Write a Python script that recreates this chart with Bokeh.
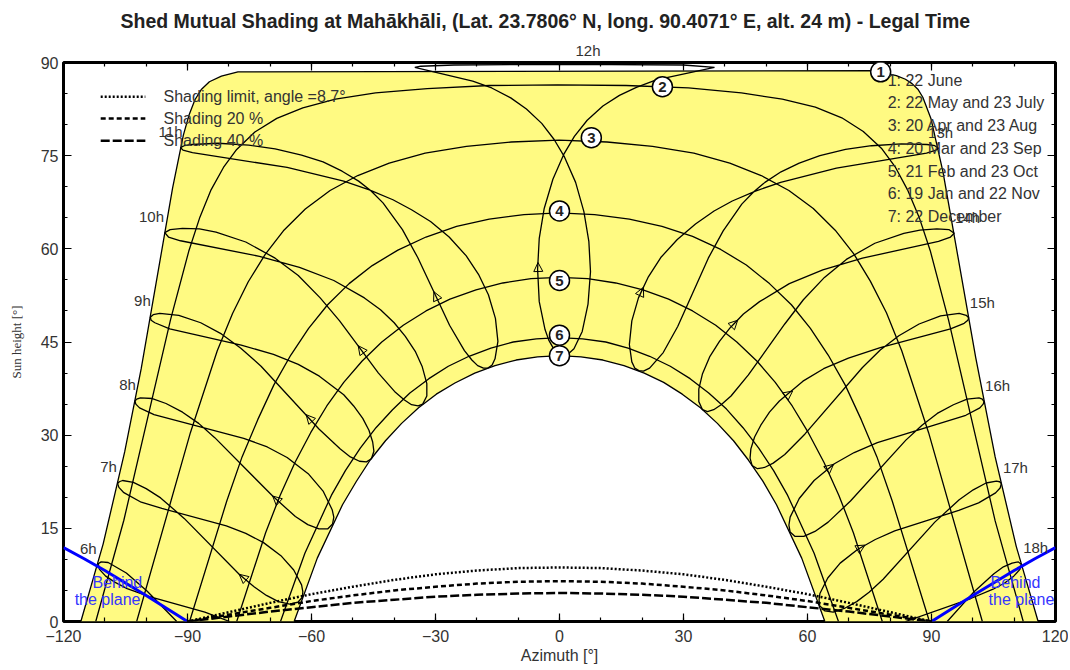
from bokeh.plotting import figure
from bokeh.models import Range1d, FixedTicker, LinearAxis, Title, Arrow, NormalHead
from bokeh.core.properties import value
from bokeh.embed import file_html
from bokeh.resources import INLINE

# ---------------- data (azimuth [deg], sun height [deg]) ----------------
# date paths
d1_az = [-115.8,-110.4,-105.2,-101.2,-93.6,-91.0,-89.6,-88.2,-86.6,-84.7,-81.8,-77.8,76.1,81.5,83.7,85.3,86.7,87.9,89.9,92.8,100.7,105.4,110.5,115.8]
d1_el = [0.0,12.5,27.3,40.7,69.8,78.3,81.6,84.0,85.7,86.9,87.8,88.5,88.7,87.9,87.3,86.6,85.7,84.4,80.9,72.3,42.5,26.5,12.1,0.0]
d2_az = [-112.2,-105.4,-94.1,-89.7,-87.0,-84.3,-81.3,-78.1,-73.7,-68.4,-62.1,-54.2,-44.5,-32.0,-17.0,-0.5,16.1,31.2,44.0,53.9,61.9,68.3,73.5,78.0,81.3,84.2,87.0,89.7,94.1,105.4,112.2]
d2_el = [0.0,16.3,48.6,59.6,65.1,69.5,73.1,76.0,78.8,81.0,82.7,84.1,85.1,85.8,86.3,86.4,86.3,85.9,85.1,84.1,82.8,81.1,78.9,76.1,73.1,69.5,65.1,59.7,48.6,16.2,0.0]
d3_az = [-102.3,-89.3,-82.8,-79.1,-75.3,-71.2,-66.8,-61.5,-55.5,-48.8,-41.2,-32.5,-22.5,-11.7,-0.1,11.5,22.5,32.5,41.2,48.8,55.5,61.4,66.7,71.2,75.2,79.1,82.8,89.3,102.3]
d3_el = [0.0,30.4,43.6,49.6,54.7,59.1,62.9,66.4,69.4,71.8,73.8,75.4,76.5,77.2,77.5,77.2,76.5,75.4,73.8,71.8,69.4,66.5,63.0,59.2,54.8,49.7,43.6,30.4,0.0]
d4_az = [-89.5,-80.5,-76.8,-73.0,-69.1,-65.0,-60.7,-56.1,-50.9,-45.3,-39.1,-32.3,-24.9,-17.0,-8.6,-0.1,8.5,16.9,24.8,32.2,39.0,45.2,50.8,56.1,60.7,65.0,69.1,73.0,76.8,80.5,89.5]
d4_el = [0.0,19.4,26.5,32.5,38.1,42.9,47.2,51.0,54.4,57.3,59.8,61.9,63.6,64.8,65.5,65.8,65.5,64.8,63.6,62.0,59.9,57.4,54.4,51.0,47.2,42.9,38.1,32.5,26.5,19.4,0.0]
d5_az = [-78.1,-71.1,-67.6,-64.0,-60.2,-56.3,-52.2,-47.8,-43.0,-37.8,-32.3,-26.5,-20.2,-13.7,-6.9,0.0,6.8,13.6,20.2,26.4,32.2,37.8,42.9,47.8,52.2,56.3,60.2,64.0,67.6,71.1,78.1]
d5_el = [0.0,14.3,20.3,25.6,30.4,34.7,38.5,41.9,45.0,47.7,50.0,51.9,53.4,54.5,55.2,55.4,55.2,54.5,53.4,51.9,50.0,47.7,45.0,41.9,38.5,34.7,30.4,25.6,20.3,14.3,0.0]
d6_az = [-67.5,-61.6,-55.2,-51.8,-48.2,-44.4,-40.4,-36.2,-31.6,-26.9,-21.9,-16.6,-11.2,-5.6,0.0,5.6,11.2,16.6,21.8,26.8,31.6,36.1,40.4,44.4,48.2,51.8,55.2,61.6,67.5]
d6_el = [0.0,11.0,20.3,24.3,27.9,31.2,34.1,36.8,39.1,41.1,42.7,44.0,45.0,45.5,45.7,45.5,45.0,44.0,42.7,41.1,39.1,36.8,34.2,31.2,27.9,24.3,20.3,11.0,0.0]
d7_az = [-64.2,-58.6,-52.5,-49.2,-45.8,-42.1,-38.2,-34.1,-29.8,-25.3,-20.5,-15.6,-10.5,-5.3,0.0,5.2,10.5,15.6,20.5,25.2,29.7,34.1,38.2,42.1,45.7,49.2,52.5,58.6,64.2]
d7_el = [0.0,10.2,18.8,22.5,26.0,29.1,31.9,34.4,36.6,38.4,40.0,41.2,42.1,42.6,42.8,42.6,42.1,41.2,40.0,38.5,36.6,34.4,31.9,29.1,26.0,22.6,18.8,10.2,0.0]

# hour lines (legal time), Dec -> Jun -> Dec
t6_az = [-92.6,-99.8,-104.8,-109.2,-110.9,-111.6,-111.3,-109.8,-107.5,-104.6,-99.2,-85.8,-79.8]
t6_el = [0.0,4.9,7.8,9.5,9.6,9.3,8.4,7.3,6.3,5.3,4.0,1.5,0.0]
t7_az = [-62.2,-63.3,-65.3,-68.0,-70.9,-73.9,-77.5,-90.8,-96.5,-100.0,-103.1,-105.7,-106.5,-106.9,-106.6,-105.5,-101.2,-96.2,-80.6,-75.9,-71.6,-67.4,-64.3,-62.4,-62.1,-62.2]
t7_el = [3.9,3.1,2.8,3.2,4.2,5.6,7.6,16.6,19.9,21.4,22.4,22.7,22.5,22.2,21.6,20.8,19.2,18.2,15.4,14.2,12.7,10.6,8.3,5.9,4.8,3.9]
t8_az = [-54.9,-56.1,-58.2,-60.9,-63.9,-69.4,-83.4,-87.3,-91.2,-95.2,-98.5,-101.4,-102.3,-102.7,-102.5,-101.6,-98.1,-76.4,-70.7,-65.9,-60.8,-57.2,-55.0,-54.6,-54.9]
t8_el = [15.7,14.9,14.9,15.6,16.9,20.2,29.6,31.9,33.7,35.1,35.9,36.0,35.8,35.5,35.0,34.4,33.3,29.5,28.1,26.4,23.8,21.0,18.0,16.8,15.7]
t9_az = [-45.5,-46.7,-48.4,-50.6,-53.1,-58.2,-72.2,-77.1,-81.8,-86.8,-92.1,-96.7,-98.3,-99.0,-98.8,-97.9,-94.3,-77.0,-69.2,-63.2,-58.1,-52.2,-49.8,-47.6,-46.1,-45.2,-44.9,-45.5]
t9_el = [26.2,25.7,25.8,26.5,27.8,31.0,41.1,44.0,46.3,48.1,49.3,49.6,49.4,49.0,48.5,48.1,47.1,44.5,43.0,41.4,39.5,36.5,34.7,32.7,30.8,28.9,27.4,26.2]
t10_az = [-33.1,-34.2,-35.8,-37.6,-39.7,-43.8,-53.2,-57.9,-63.2,-68.8,-75.9,-83.1,-87.1,-91.2,-94.2,-95.5,-94.6,-91.7,-72.6,-62.9,-54.6,-47.2,-43.3,-40.0,-37.3,-34.9,-33.2,-32.1,-32.1,-33.1]
t10_el = [35.0,34.7,34.9,35.7,36.9,40.0,48.4,52.1,55.7,58.5,61.1,62.7,63.2,63.3,63.1,62.6,61.9,61.3,58.8,57.0,54.9,52.1,50.2,48.1,45.9,43.5,41.0,38.3,36.3,35.0]
t11_az = [-17.3,-18.4,-19.8,-21.2,-23.0,-26.6,-34.3,-38.0,-42.7,-45.7,-48.6,-52.6,-57.2,-62.4,-68.8,-75.2,-82.6,-88.9,-90.8,-91.7,-91.1,-88.8,-65.9,-52.2,-46.0,-40.3,-35.8,-31.2,-26.7,-22.6,-19.6,-17.2,-15.5,-14.9,-15.6,-16.3,-17.3]
t11_el = [40.8,40.8,41.2,42.1,43.6,47.7,58.6,63.1,67.4,69.4,70.9,72.5,74.0,75.1,76.1,76.7,77.0,76.8,76.6,76.3,75.9,75.5,73.1,70.9,69.5,67.9,66.3,64.4,61.9,58.9,55.9,52.6,48.8,45.1,42.3,41.3,40.8]
t12_az = [1.0,-0.3,-1.4,-2.6,-3.5,-4.9,-5.3,-4.9,-3.7,-1.6,1.1,3.6,6.7,10.5,14.5,18.6,23.4,37.5,30.0,3.3,-25.5,-33.6,-35.0,-21.0,-16.4,-11.8,-8.0,-4.3,-1.3,1.2,3.9,5.9,7.1,7.5,6.9,5.5,3.5,2.3,1.0]
t12_el = [42.8,43.1,43.9,45.3,47.0,51.5,56.7,61.7,66.5,71.2,75.3,78.1,80.7,83.0,84.7,86.0,87.2,89.2,89.6,89.7,89.6,89.4,89.2,87.0,85.9,84.3,82.5,80.2,77.6,74.8,70.7,66.0,61.2,56.3,51.1,46.7,43.9,43.2,42.8]
t13_az = [19.2,18.2,17.5,16.9,17.5,19.1,21.5,24.5,28.5,32.9,37.4,41.8,47.4,53.5,67.0,88.8,91.1,91.7,90.8,88.9,82.7,75.5,69.2,63.0,58.0,53.6,49.7,47.0,44.1,39.6,36.0,28.6,25.1,21.8,20.3,19.2]
t13_el = [40.4,40.8,41.8,44.6,48.4,52.1,55.5,58.6,61.5,64.0,66.1,67.7,69.3,70.7,73.0,75.4,75.9,76.2,76.6,76.8,76.9,76.6,76.0,75.0,73.8,72.4,70.7,69.2,67.2,62.9,58.5,47.5,43.3,40.8,40.3,40.4]
t14_az = [34.6,33.7,33.7,34.6,36.4,38.7,41.3,44.5,48.4,55.6,63.7,73.3,91.7,94.6,95.5,94.2,91.3,87.2,83.3,76.3,69.4,64.1,59.0,54.5,45.7,41.5,39.1,37.3,35.8,34.6]
t14_el = [34.1,35.4,37.4,39.9,42.7,45.1,47.3,49.5,51.5,54.4,56.6,58.5,61.2,61.9,62.5,63.1,63.2,63.0,62.5,60.9,58.3,55.4,51.8,47.9,39.7,36.3,34.9,34.1,33.8,34.1]
t15_az = [46.6,46.1,46.3,47.2,48.7,50.8,53.2,58.9,63.9,69.9,77.6,94.6,97.9,98.8,99.0,98.4,96.7,92.2,87.0,82.1,77.6,73.3,59.4,54.5,51.7,49.6,47.9,46.6]
t15_el = [25.1,26.3,27.8,29.7,31.6,33.7,35.5,38.7,40.7,42.4,44.1,47.1,48.0,48.5,48.9,49.3,49.6,49.2,47.9,46.0,43.7,40.9,30.2,26.9,25.5,24.8,24.6,25.1]
t16_az = [55.8,55.5,55.8,58.0,61.6,66.5,71.3,76.9,98.3,101.7,102.5,102.7,102.3,101.5,98.6,95.3,91.4,87.7,83.8,70.4,65.0,61.8,59.1,57.0,55.8]
t16_el = [14.4,15.5,16.8,19.8,22.7,25.4,27.2,28.8,33.2,34.4,35.0,35.4,35.8,36.0,35.8,34.9,33.5,31.6,29.2,19.4,16.0,14.5,13.7,13.7,14.4]
t17_az = [62.9,62.8,63.0,64.9,67.9,72.1,76.4,81.1,96.6,101.4,105.5,106.6,106.9,106.5,105.7,103.2,100.1,96.7,90.8,78.3,74.9,71.9,68.9,66.2,64.2,62.9]
t17_el = [2.6,3.5,4.5,7.0,9.4,11.6,13.2,14.6,17.9,19.1,20.7,21.5,22.2,22.5,22.6,22.3,21.2,19.6,16.0,6.8,4.7,3.2,2.1,1.5,1.7,2.6]
t18_az = [83.7,99.5,104.9,107.7,109.9,111.4,111.7,111.0,109.5,107.4,105.1,100.3,93.8]
t18_el = [0.0,3.7,5.2,6.2,7.3,8.4,9.2,9.6,9.4,8.8,7.7,4.8,0.0]

# direction arrows on the hour lines (tail -> tip)
arrow_tail_az = [-73.9,-63.9,-58.2,-43.8,-26.6,-4.9,19.1,41.3,53.2,61.6,72.1]
arrow_tail_el = [5.6,16.9,31.0,40.0,47.7,51.5,52.1,47.3,35.5,22.7,11.6]
arrow_tip_az = [-77.5,-69.4,-61.3,-48.7,-30.4,-5.2,20.3,43.1,56.4,66.3,73.9]
arrow_tip_el = [7.6,20.2,33.3,44.4,53.1,57.8,53.8,48.5,37.1,25.3,12.3]

# shading limits (vs azimuth)
sh_az = [-90,-80,-70,-60,-50,-40,-30,-20,-10,0,10,20,30,40,50,60,70,80,90]
sh_limit = [0.0,1.5,3.0,4.4,5.6,6.7,7.6,8.2,8.6,8.7,8.6,8.2,7.6,6.7,5.6,4.4,3.0,1.5,0.0]
sh_20 = [0.0,1.1,2.2,3.3,4.2,5.0,5.6,6.1,6.4,6.5,6.4,6.1,5.6,5.0,4.2,3.3,2.2,1.1,0.0]
sh_40 = [0.0,0.8,1.6,2.3,3.0,3.5,4.0,4.3,4.5,4.6,4.5,4.3,4.0,3.5,3.0,2.3,1.6,0.8,0.0]

# behind the plane limits
bp_left_az = [-120,-115,-110,-105,-100,-95,-90]
bp_left_el = [11.9,10.1,8.2,6.2,4.2,2.1,0.0]
bp_right_az = [90,95,100,105,110,115,120]
bp_right_el = [0.0,2.1,4.2,6.2,8.2,10.1,11.9]
bp_txt = ["Behind", "the plane", "Behind", "the plane"]
bp_txt_az = [-113.0, -117.3, 104.3, 103.8]
bp_txt_el = [6.3, 3.5, 6.3, 3.5]

# date markers
mark_txt = ["1","2","3","4","5","6","7"]
mark_az = [77.7,24.9,7.7,0.0,0.0,0.0,0.0]
mark_el = [88.5,86.1,77.9,66.1,54.9,46.1,42.8]
date_labels = ["1: 22 June","2: 22 May and 23 July","3: 20 Apr and 23 Aug","4: 20 Mar and 23 Sep",
               "5: 21 Feb and 23 Oct","6: 19 Jan and 22 Nov","7: 22 December"]
date_lab_az = [79.4]*7
date_lab_el = [87.1,83.6,79.9,76.2,72.5,68.9,65.2]

# hour labels
hour_txt = ["6h","7h","8h","9h","10h","11h","13h","14h","15h","16h","17h","18h"]
hour_az = [-114.0,-109.1,-104.5,-100.9,-98.7,-94.1,92.2,98.7,102.3,106.0,110.3,115.2]
hour_el = [11.8,25.0,38.2,51.7,65.2,78.9,78.7,65.0,51.4,38.0,24.8,11.9]

# legend (shading curves)
leg_txt = ["Shading limit, angle =8.7°","Shading 20 %","Shading 40 %"]
leg_el = [84.5,81.0,77.4]

FONT = "Liberation Sans"
TXT = "#333333"

p = figure(width=1068, height=669, x_range=Range1d(-120, 120), y_range=Range1d(0, 90),
           output_backend="svg", toolbar_location=None, title=None,
           x_axis_location=None, y_axis_location=None,
           min_border_left=63, min_border_right=13, min_border_top=62, min_border_bottom=48)
p.grid.visible = False
p.background_fill_color = "white"
p.border_fill_color = "white"
p.outline_line_color = "black"
p.outline_line_width = 3

xt = FixedTicker(ticks=list(range(-120, 121, 30)), minor_ticks=list(range(-120, 121, 10)))
yt = FixedTicker(ticks=list(range(0, 91, 15)), minor_ticks=list(range(0, 91, 5)))
bottom = LinearAxis(ticker=xt)
left = LinearAxis(ticker=yt)
top = LinearAxis(ticker=xt)
right = LinearAxis(ticker=yt)
p.add_layout(bottom, "below")
p.add_layout(left, "left")
p.add_layout(top, "above")
p.add_layout(right, "right")
for ax in [bottom, left, top, right]:
    ax.axis_line_color = None
    ax.major_tick_in = 8; ax.major_tick_out = 0
    ax.minor_tick_in = 4; ax.minor_tick_out = 0
    ax.major_tick_line_color = "black"; ax.minor_tick_line_color = "black"
    ax.major_tick_line_width = 1.2; ax.minor_tick_line_width = 1.2
    ax.major_label_text_font = FONT
    ax.major_label_text_font_size = "16px"
    ax.major_label_text_color = TXT
top.major_label_overrides = {t: "" for t in range(-120, 121, 30)}
right.major_label_overrides = {t: "" for t in range(0, 91, 15)}
top.major_label_standoff = 0
right.major_label_standoff = 0
bottom.major_label_standoff = 8
left.major_label_standoff = 5
bottom.axis_label = "Azimuth [°]"
bottom.axis_label_text_font = FONT
bottom.axis_label_text_font_size = "16px"
bottom.axis_label_text_font_style = "normal"
bottom.axis_label_text_color = TXT
bottom.axis_label_standoff = 2
left.axis_label = "Sun height [°]"
left.axis_label_text_font = "Liberation Serif"
left.axis_label_text_font_size = "13px"
left.axis_label_text_font_style = "normal"
left.axis_label_text_color = TXT
left.axis_label_standoff = 14

p.add_layout(Title(text="12h", align="left", offset=512, standoff=7, text_font=FONT,
                   text_font_size="15px", text_font_style="normal", text_color=TXT), "above")
p.add_layout(Title(text="Shed Mutual Shading at Mahākhāli, (Lat. 23.7806° N, long. 90.4071° E, alt. 24 m) - Legal Time",
                   align="left", offset=57, standoff=10, text_font=FONT, text_font_size="19.5px",
                   text_font_style="bold", text_color="#222222"), "above")

# yellow area between 22 June and 22 December paths
p.patch(d1_az + d7_az[::-1], d1_el + d7_el[::-1], fill_color="#FFFA82", line_color=None)

hours = [(t6_az, t6_el), (t7_az, t7_el), (t8_az, t8_el), (t9_az, t9_el), (t10_az, t10_el),
         (t11_az, t11_el), (t12_az, t12_el), (t13_az, t13_el), (t14_az, t14_el), (t15_az, t15_el),
         (t16_az, t16_el), (t17_az, t17_el), (t18_az, t18_el)]
for a, e in hours:
    p.line(a, e, line_color="black", line_width=1.3)
dates = [(d1_az, d1_el), (d2_az, d2_el), (d3_az, d3_el), (d4_az, d4_el),
         (d5_az, d5_el), (d6_az, d6_el), (d7_az, d7_el)]
for a, e in dates:
    p.line(a, e, line_color="black", line_width=1.3)

for i in range(len(arrow_tip_az)):
    p.add_layout(Arrow(end=NormalHead(size=9, fill_color=None, line_color="black", line_width=1),
                       x_start=arrow_tail_az[i], y_start=arrow_tail_el[i],
                       x_end=arrow_tip_az[i], y_end=arrow_tip_el[i], line_alpha=0))

# shading curves
p.line(sh_az, sh_limit, line_color="black", line_width=2.5, line_dash="2 2")
p.line(sh_az, sh_20, line_color="black", line_width=2.5, line_dash="5 3")
p.line(sh_az, sh_40, line_color="black", line_width=2.5, line_dash="9 3")

# behind the plane
p.line(bp_left_az, bp_left_el, line_color="#0000ff", line_width=3)
p.line(bp_right_az, bp_right_el, line_color="#0000ff", line_width=3)
p.text(x=bp_txt_az, y=bp_txt_el, text=bp_txt, text_font=value(FONT),
       text_font_size="16px", text_color="#3535ff", text_baseline="middle", text_align="left")

# markers
p.scatter(mark_az, mark_el, size=20, marker="circle", fill_color="white", line_color="black", line_width=1.5)
p.text(mark_az, mark_el, text=mark_txt, text_font=value(FONT), text_font_style="bold",
       text_font_size="15px", text_color="#222222", text_align="center", text_baseline="middle")
p.text(date_lab_az, date_lab_el, text=date_labels, text_font=value(FONT), text_font_size="16px",
       text_color=TXT, text_align="left", text_baseline="middle")

# hour labels
p.text(hour_az, hour_el, text=hour_txt, text_font=value(FONT), text_font_size="15px",
       text_color=TXT, text_align="center", text_baseline="middle")

# legend of shading curves
leg_styles = ["2 2", "5 3", "9 3"]
for i in range(3):
    p.line([-111.0, -100.2], [leg_el[i], leg_el[i]], line_color="black", line_width=2.5, line_dash=leg_styles[i])
p.text([-95.8]*3, leg_el, text=leg_txt, text_font=value(FONT), text_font_size="16px",
       text_color=TXT, text_align="left", text_baseline="middle")

open("out.html", "w").write(file_html(p, INLINE))
